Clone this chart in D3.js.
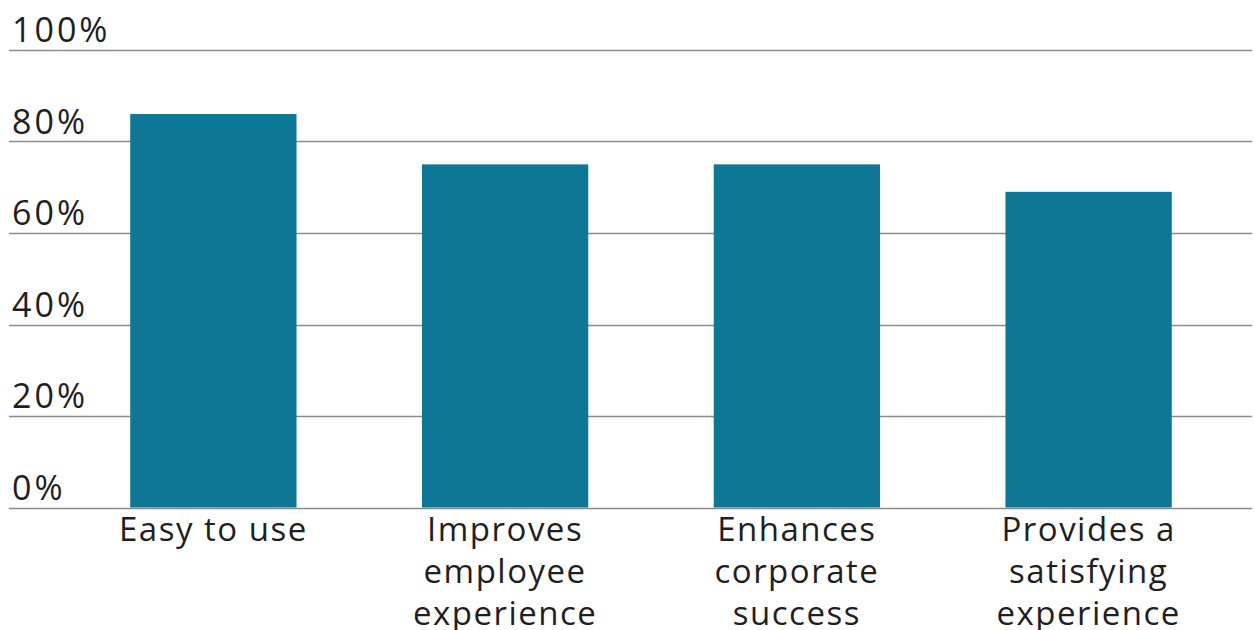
<!DOCTYPE html>
<html>
<head>
<meta charset="utf-8">
<script src="https://cdn.jsdelivr.net/npm/d3@7"></script>
<style>
  html, body { margin: 0; padding: 0; background: #fff; }
  svg text { font-family: "Open Sans", "Noto Sans", sans-serif; fill: #1f1f1f; }
</style>
</head>
<body>
<svg id="chart" width="1254" height="630"></svg>
<script>
const categories = [
  ["Easy to use"],
  ["Improves", "employee", "experience"],
  ["Enhances", "corporate", "success"],
  ["Provides a", "satisfying", "experience"]
];
const values = [86, 75, 75, 69];
const tickValues = [0, 20, 40, 60, 80, 100];

const svg = d3.select("#chart");
const y = d3.scaleLinear().domain([0, 100]).range([507.5, 50]);
const x = d3.scaleBand()
  .domain(categories.map((c, i) => i))
  .range([67.5, 1234.5])
  .paddingInner(0.43)
  .paddingOuter(0.215);

// gridlines
const grid = svg.append("g");
grid.selectAll("line").data(tickValues).join("line")
  .attr("x1", 9).attr("x2", 1252)
  .attr("y1", d => Math.round(y(d)) + 0.5)
  .attr("y2", d => Math.round(y(d)) + 0.5)
  .attr("stroke", "#8c8c8c").attr("stroke-width", 1.3);

// tick labels
grid.selectAll("text").data(tickValues).join("text")
  .attr("x", 12)
  .attr("y", d => y(d) - 8)
  .attr("font-size", 34)
  .attr("letter-spacing", 3)
  .text(d => d + "%");

// bars
svg.append("g").selectAll("rect").data(values).join("rect")
  .attr("x", (d, i) => x(i))
  .attr("width", x.bandwidth())
  .attr("y", d => y(d))
  .attr("height", d => y(0) - y(d))
  .attr("fill", "#0e7795");

// category labels
const lab = svg.append("g").selectAll("text").data(categories).join("text")
  .attr("x", (d, i) => x(i) + x.bandwidth() / 2)
  .attr("y", 541)
  .attr("text-anchor", "middle")
  .attr("font-size", 33)
  .attr("letter-spacing", 1.5);
lab.selectAll("tspan").data(d => d).join("tspan")
  .attr("x", function() { return d3.select(this.parentNode).attr("x"); })
  .attr("dy", (d, i) => i === 0 ? 0 : 42)
  .text(d => d);
</script>
</body>
</html>
